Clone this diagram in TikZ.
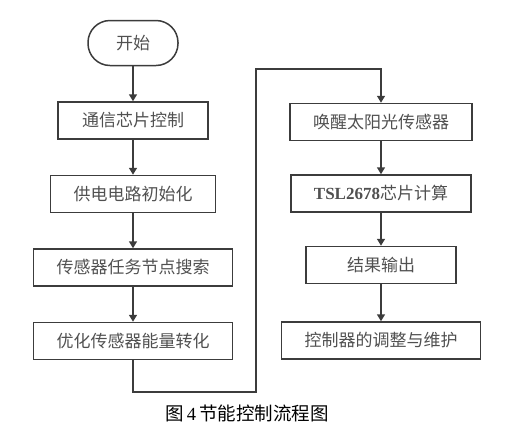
\documentclass[tikz,border=0pt]{standalone}
\usepackage{fontspec}
\usepackage{tikz}
\usetikzlibrary{arrows.meta,positioning}
\newfontfamily\cjk{Noto Sans CJK SC}
\newfontfamily\lat{Liberation Serif}
\definecolor{linegray}{RGB}{60,60,60}
\definecolor{textgray}{RGB}{80,80,80}
\tikzset{
  flowbox/.style={draw=linegray,line width=1.5pt,minimum width=150pt,minimum height=37pt,
    inner xsep=23pt,align=center,text=textgray,font=\cjk\fontsize{17}{20}\selectfont},
  startbox/.style={flowbox,rounded corners=22pt,minimum width=90pt,minimum height=45pt,inner xsep=10pt},
  flowarrow/.style={-{Triangle[length=7pt,width=8pt]},line width=1.5pt,draw=linegray},
}
\begin{document}
\begin{tikzpicture}[x=1pt,y=-1pt,node distance=35pt]
    \useasboundingbox (0,0) rectangle (517,432);
    % left column
    \node[startbox] (start) at (133,43) {开始};
    \node[flowbox,below=of start] (chip) {通信芯片控制};
    \node[flowbox,below=of chip] (power) {供电电路初始化};
    \node[flowbox,below=of power] (search) {传感器任务节点搜索};
    \node[flowbox,below=of search] (energy) {优化传感器能量转化};
    % right column
    \node[flowbox] (wake) at (381,122) {唤醒太阳光传感器};
    \node[flowbox,below=33pt of wake] (calc) {{\lat\bfseries TSL2678}芯片计算};
    \node[flowbox,below=33pt of calc] (output) {结果输出};
    \node[flowbox,below=37pt of output] (maintain) {控制器的调整与维护};
    \coordinate (loopbot) at (256,392);
    \coordinate (looptop) at (256,69);
    \draw[flowarrow] (start) -- (chip);
    \draw[flowarrow] (chip) -- (power);
    \draw[flowarrow] (power) -- (search);
    \draw[flowarrow] (search) -- (energy);
    \draw[flowarrow] (energy.south) |- (loopbot) -- (looptop) -| (wake.north);
    \draw[flowarrow] (wake) -- (calc);
    \draw[flowarrow] (calc) -- (output);
    \draw[flowarrow] (output) -- (maintain);
    \node[font=\cjk\fontsize{18.5}{22}\selectfont] (caption) at (247,413) {图\,{\lat 4}\,节能控制流程图};
  \end{tikzpicture}
\end{document}
